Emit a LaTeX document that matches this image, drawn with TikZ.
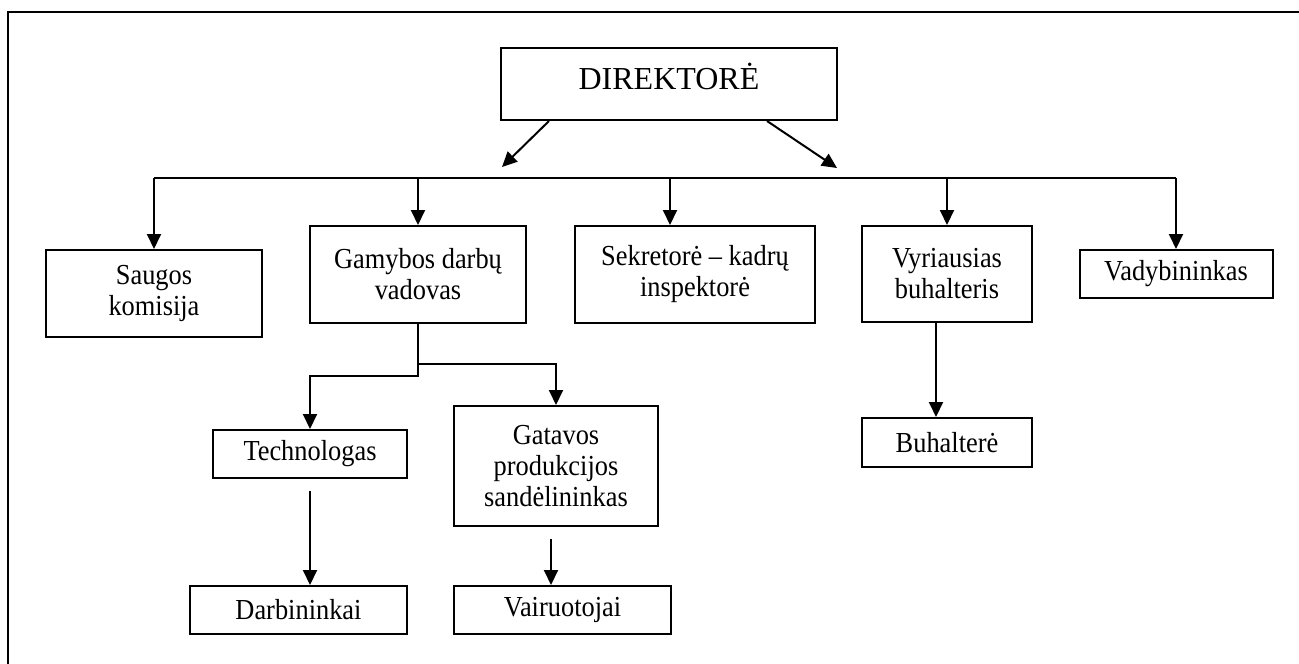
\documentclass[tikz,border=0pt]{standalone}
\usepackage{fontspec}
\setmainfont{Liberation Serif}
\newfontfamily\narrowserif[FakeStretch=0.91]{Liberation Serif}
\usetikzlibrary{arrows.meta}
\tikzset{
  box/.style={draw, line width=2pt, align=center, inner sep=0pt,
    font=\narrowserif\fontsize{29}{31}\selectfont},
  arr/.style={line width=2pt, -{Triangle[length=15pt,width=14pt]}},
  ln/.style={line width=2pt}
}
\begin{document}
\begin{tikzpicture}[x=1pt,y=-1pt]
\useasboundingbox (0,0) rectangle (1299,664);
% frame
\draw[ln] (8,664) -- (8,12) -- (1299,12);

% nodes
\node[box, minimum width=336pt, minimum height=72pt,
      font=\fontsize{32}{36}\selectfont, text height=22pt, text depth=12pt]
      (dir) at (669,84) {DIREKTORĖ};
\node[box, minimum width=216pt, minimum height=87pt] (saug) at (154,293.5) {Saugos\\komisija};
\node[box, minimum width=216pt, minimum height=97pt] (gam) at (418,274.5) {Gamybos darbų\\vadovas};
\node[box, minimum width=240pt, minimum height=97pt] (sek) at (695,274.5) {Sekretorė – kadrų\\inspektorė};
\node[box, minimum width=170pt, minimum height=96pt] (vyr) at (947,274) {Vyriausias\\buhalteris};
\node[box, minimum width=193pt, minimum height=48pt] (vad) at (1176,274) {Vadybininkas};
\node[box, minimum width=194pt, minimum height=48pt] (tech) at (310,454) {Technologas};
\node[box, minimum width=204pt, minimum height=120pt] (gat) at (556,466) {Gatavos\\produkcijos\\sandėlininkas};
\node[box, minimum width=217pt, minimum height=48pt] (darb) at (298.5,610) {Darbininkai};
\node[box, minimum width=217pt, minimum height=48pt] (vair) at (562.5,610) {Vairuotojai};
\node[box, minimum width=170pt, minimum height=49pt] (buh) at (947,442.5) {Buhalterė};

% coordinates
\coordinate (la) at (502,167);
\coordinate (ra) at (837,168);
\coordinate (busL) at (154,178);
\coordinate (busR) at (1176,178);
\coordinate (g1) at (418,364);
\coordinate (g2) at (418,376);

% connectors
\draw[arr] ([xshift=49pt]dir.south west) -- (la);
\draw[arr] ([xshift=-71pt]dir.south east) -- (ra);
\draw[ln] (busL) -- (busR);
\draw[arr] (busL) -- (saug.north);
\draw[arr] (gam.north |- busL) -- (gam.north);
\draw[arr] ([xshift=-25pt]sek.north |- busL) -- ([xshift=-25pt]sek.north);
\draw[arr] (vyr.north |- busL) -- (vyr.north);
\draw[arr] (busR) -- (vad.north);

\draw[arr] (gam.south) -- (g2) -| (tech.north);
\draw[arr] (g1) -| (gat.north);
\draw[arr] ([yshift=-12pt]tech.south) -- (tech.south |- darb.north);
\draw[arr] ([xshift=-5pt,yshift=-12pt]gat.south) -- ([xshift=-5pt]gat.south |- vair.north);
\draw[arr] ([xshift=-11pt]vyr.south) -- ([xshift=-11pt]vyr.south |- buh.north);
\end{tikzpicture}
\end{document}
